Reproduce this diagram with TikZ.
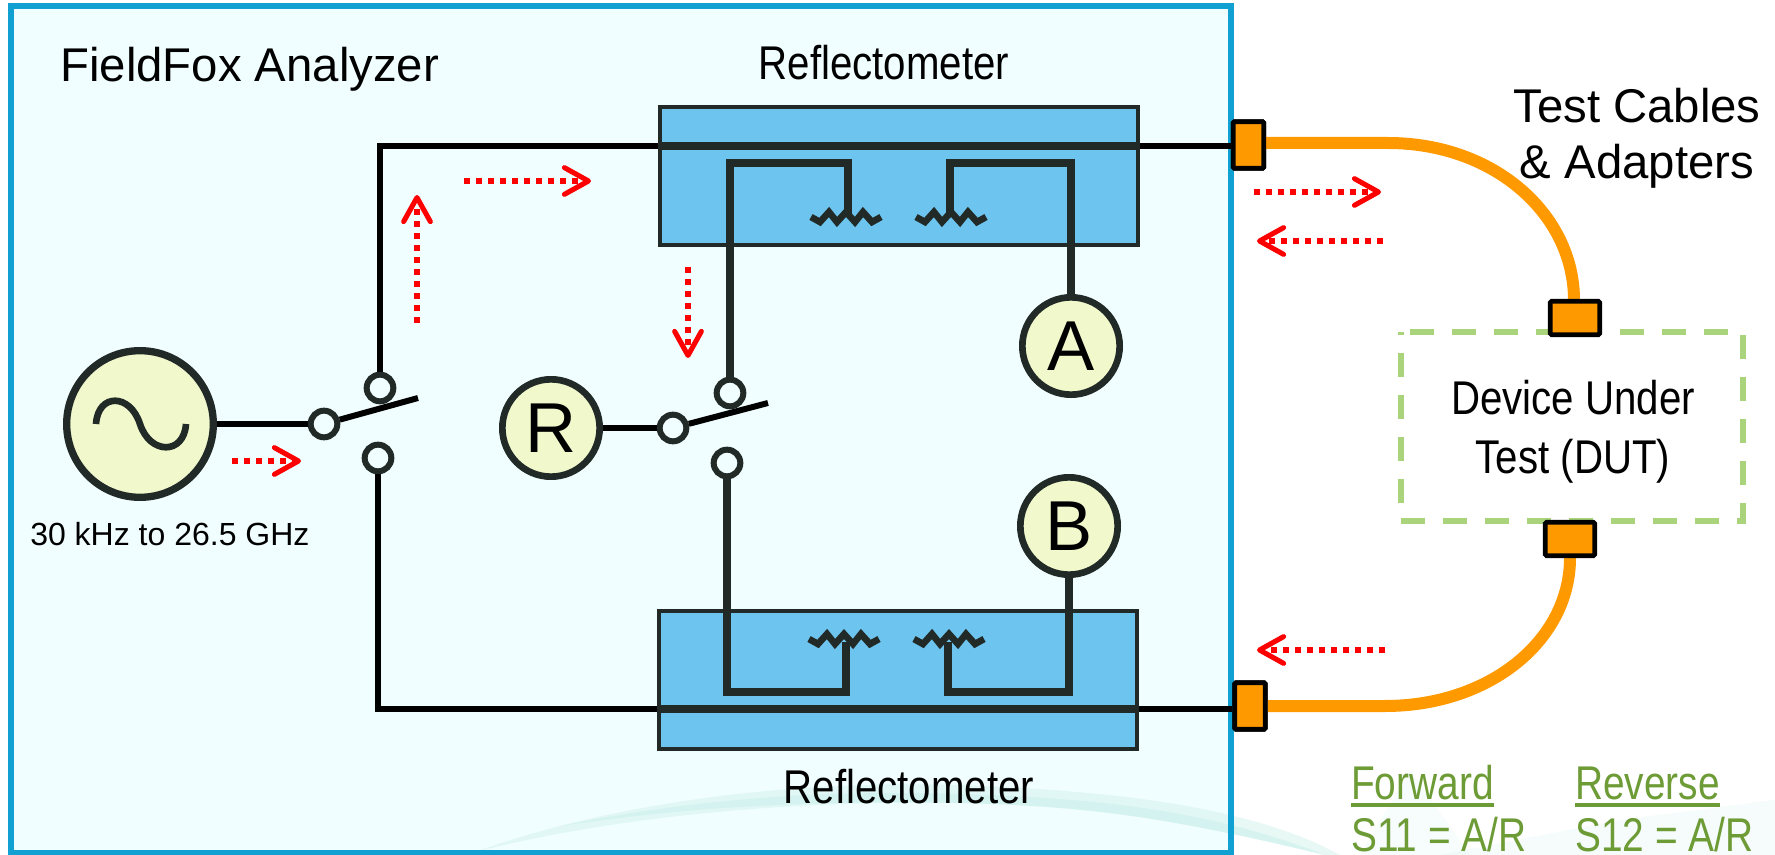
\documentclass[tikz,border=0pt]{standalone}
\usepackage{fontspec}
\setmainfont{Liberation Sans}
\usepackage{graphicx}
\usetikzlibrary{arrows.meta}
\tikzset{>={Straight Barb[length=18pt,width=20pt,line width=3.8pt,round]}}
\definecolor{panelblue}{HTML}{10A0D2}
\definecolor{panelfill}{HTML}{F0FEFF}
\definecolor{reflblue}{HTML}{6DC5EF}
\definecolor{darkwire}{HTML}{222A27}
\definecolor{meterfill}{HTML}{F0F8CC}
\definecolor{cable}{HTML}{FF9900}
\definecolor{dutgreen}{HTML}{A9D47B}
\definecolor{formula}{HTML}{6D9B35}
\definecolor{swoosh}{HTML}{CDF0EB}
\newcommand{\attenuator}[2]{
	\draw[reflwire, line width=5pt, line join=miter](#1-36, #2)--++(9, 5)--++(9, -10)--++(8, 10)--++(9, -10)--++(9, 10)--++(8, -10)--++(9, 10)--++(9, -5)
}
\newcommand{\squeezed}[2]{\scalebox{#1}[1]{#2}}
\tikzset{
	wire/.style={line width=5pt, draw=black},
	reflwire/.style={line width=6pt, draw=darkwire},
	reflbox/.style={draw=darkwire, line width=3pt, fill=reflblue, minimum width=358pt, minimum height=104pt, inner sep=0},
	meter/.style={circle, draw=darkwire, line width=5pt, fill=meterfill, minimum size=73pt, inner sep=0, font=\fontsize{53}{53}\selectfont},
	contact/.style={circle, draw=darkwire, line width=4.5pt, fill=panelfill, minimum size=20pt, inner sep=0},
	port/.style={draw=black, line width=3.6pt, fill=cable, rounded corners=1pt, inner sep=0},
	label/.style={font=\fontsize{35.5}{35.5}\selectfont, inner sep=0},
	formulatext/.style={label, text=formula, anchor=base west},
	flow/.style={->, red, line width=3.8pt, dash pattern=on 4.5pt off 4.5pt},
	cablewire/.style={line width=9pt, draw=cable}
}
\begin{document}
\begin{tikzpicture}[x=.75pt, y=-.75pt]
	\useasboundingbox (0, 0) rectangle (1775, 855);
	\clip (0, 0) rectangle (1775, 855);
	\fill[white] (0, 0) rectangle (1775, 855);
	% background glow
	\fill[swoosh, opacity=.15] (1410, 770) -- (1470, 855) -- (1360, 855) -- cycle;
	\fill[swoosh, opacity=.2] (1440, 855) -- (1620, 820) -- (1775, 800) -- (1775, 855) -- cycle;
	\fill[panelfill] (11, 6) rectangle (1231, 853);
	\fill[swoosh, opacity=.45] (475, 852) .. controls (620, 800) and (800, 780) .. (960, 785) .. controls (1080, 790) and (1240, 800) .. (1340, 855) -- (1325, 855) .. controls (1160, 815) and (1080, 806) .. (960, 803) .. controls (800, 800) and (620, 815) .. (475, 852);
	\fill[swoosh, opacity=.6] (560, 826) .. controls (700, 798) and (820, 790) .. (960, 794) .. controls (1080, 798) and (1200, 806) .. (1325, 855) .. controls (1160, 815) and (1080, 806) .. (960, 803) .. controls (800, 800) and (680, 808) .. (560, 826);
	\draw[panelblue, line width=4pt] (11, 6) rectangle (1231, 853);
	% reflectometers
	\node[reflbox] (reflTop) at (899, 176) {};
	\node[reflbox] (reflBot) at (898, 680) {};
	\node[label] (reflTopText) at (884, 63) {\squeezed{.85}{Reflectometer}};
	\node[label] (reflBotText) at (909, 787) {\squeezed{.85}{Reflectometer}};
	\node[label, anchor=west] (title) at (60, 69) {FieldFox Analyzer};
	% switches and meters
	\node[circle, draw=darkwire, line width=5.5pt, fill=meterfill, minimum size=110pt, inner sep=0] (source) at (140, 424) {};
	\node[contact] (swOneIn) at (324, 424) {};
	\node[contact] (swOneUp) at (380, 388) {};
	\node[contact] (swOneDown) at (378, 458) {};
	\node[contact] (swTwoIn) at (673, 428) {};
	\node[contact] (swTwoUp) at (730, 393) {};
	\node[contact] (swTwoDown) at (727, 463) {};
	\node[meter] (meterR) at (551, 428) {R};
	\node[meter] (meterA) at (1071, 346) {A};
	\node[meter] (meterB) at (1069, 526) {B};
	% ports
	\node[port, minimum width=23pt, minimum height=35pt] (portTop) at (1248.5, 145) {};
	\node[port, minimum width=23pt, minimum height=35pt] (portBot) at (1250, 706) {};
	\coordinate (topTurn) at (1388, 143);
	\coordinate (botTurn) at (1385, 706);
	\coordinate (topEnd) at (1574, 300);
	\coordinate (botEnd) at (1570, 558);
	\coordinate (swOneEnd) at (418, 398);
	\coordinate (swTwoEnd) at (768, 403);
	\coordinate (topLeft) at (380, 146);
	\coordinate (botLeft) at (378, 709);
	\coordinate (topIn) at (730, 163);
	\coordinate (botIn) at (727, 692);
	\coordinate (topTap) at (848, 214);
	\coordinate (topTapB) at (950, 214);
	\coordinate (botTap) at (846, 642);
	\coordinate (botTapB) at (948, 642);
	% wires
	\draw[wire] (source)--(swOneIn);
	\draw[wire, line width=4.5pt] (swOneIn)--(swOneEnd);
	\draw[wire] (swOneUp.north)--(topLeft)--(topLeft-|portTop.west);
	\draw[wire] (swOneDown.south)--(botLeft)--(botLeft-|portBot.west);
	\draw[wire] (meterR)--(swTwoIn);
	\draw[wire, line width=4.5pt] (swTwoIn)--(swTwoEnd);
	\draw[reflwire] (topLeft-|reflTop.west)--(topLeft-|reflTop.east);
	\draw[reflwire] (botLeft-|reflBot.west)--(botLeft-|reflBot.east);
	\draw[reflwire, line join=miter] (swTwoUp.north)--(topIn)-|(topTap);
	\draw[reflwire, line join=miter] (meterA.north)--(meterA.north|-topIn)-|(topTapB);
	\draw[reflwire, line join=miter] (swTwoDown.south)--(botIn)-|(botTap);
	\draw[reflwire, line join=miter] (meterB.south)--(meterB.south|-botIn)-|(botTapB);
	\attenuator{847}{217};
	\attenuator{952}{217};
	\attenuator{845}{639};
	\attenuator{950}{639};
	% device and cables
	\draw[dutgreen, line width=4pt, dash pattern=on 18pt off 13.5pt] (1410, 332) -- (1743, 332) -- (1743, 521) -- (1401, 521) -- (1401, 332);
	\node[label] (dutOne) at (1573, 398) {\squeezed{.85}{Device Under}};
	\node[label] (dutTwo) at (1573, 461) {\squeezed{.85}{Test (DUT)}};
	\draw[cablewire] (portTop.east|-topTurn)--(topTurn)..controls (1495, 143) and (1574, 215)..(topEnd);
	\draw[cablewire] (portBot)--(botTurn)..controls (1490, 706) and (1570, 640)..(botEnd);
	\node[port, minimum width=23pt, minimum height=35pt] at (portTop) {};
	\node[port, minimum width=23pt, minimum height=35pt] at (portBot) {};
	\node[port, minimum width=37pt, minimum height=25pt] (dutTop) at (1575, 318) {};
	\node[port, minimum width=37pt, minimum height=25pt] (dutBot) at (1570, 539) {};
	\node[label] (testOne) at (1637, 106) {Test Cables};
	\node[label] (testTwo) at (1637, 166) {\&\ Adapters};
	\node[font=\fontsize{24}{24}\selectfont, inner sep=0, anchor=west] (range) at (30, 534) {30 kHz to 26.5 GHz};
	% sine
	\draw[darkwire, line width=5pt] (96, 424) .. controls (98, 393) and (130, 393) .. (140, 424) .. controls (150, 455) and (184, 455) .. (186, 424);
	% formulas
	\node[formulatext] (fwd) at (1351, 799) {\squeezed{.82}{Forward}};
	\node[formulatext] (rev) at (1575, 799) {\squeezed{.82}{Reverse}};
	\node[formulatext] (sOne) at (1351, 851) {\squeezed{.82}{S11 = A/R}};
	\node[formulatext] (sTwo) at (1575, 851) {\squeezed{.82}{S12 = A/R}};
	\draw[formula, line width=2.6pt] (fwd.west|-0, 805)--(fwd.east|-0, 805);
	\draw[formula, line width=2.6pt] (rev.west|-0, 805)--(rev.east|-0, 805);
	% signal flow
	\coordinate (flowA) at (232, 461);
	\coordinate (flowAb) at (301, 461);
	\coordinate (flowB) at (417, 323);
	\coordinate (flowBb) at (417, 195);
	\coordinate (flowC) at (464, 181);
	\coordinate (flowCb) at (591, 181);
	\coordinate (flowD) at (688, 267);
	\coordinate (flowDb) at (688, 358);
	\coordinate (flowE) at (1254, 192);
	\coordinate (flowEb) at (1381, 192);
	\coordinate (flowF) at (1383, 241);
	\coordinate (flowFb) at (1257, 241);
	\coordinate (flowG) at (1385, 650);
	\coordinate (flowGb) at (1257, 650);
	\foreach \a/\b in {flowA/flowAb, flowB/flowBb, flowC/flowCb, flowD/flowDb, flowE/flowEb, flowF/flowFb, flowG/flowGb}
		\draw[flow] (\a)--(\b);
\end{tikzpicture}
\end{document}
